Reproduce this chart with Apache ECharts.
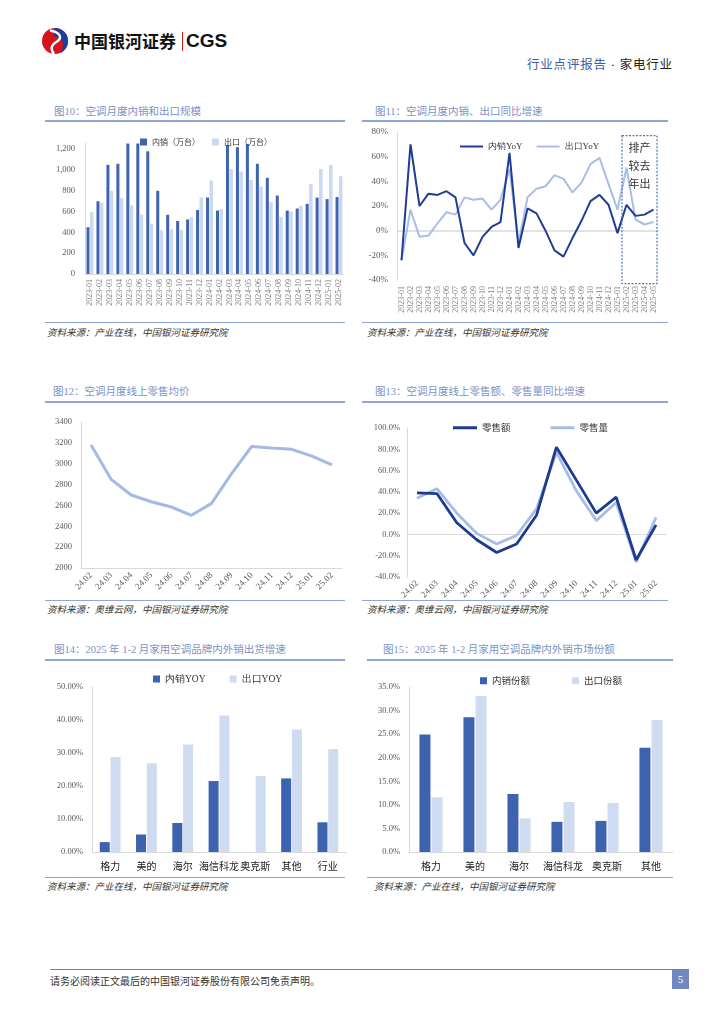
<!DOCTYPE html>
<html><head><meta charset="utf-8">
<script src="https://cdn.jsdelivr.net/npm/echarts@6/dist/echarts.min.js"></script>
<style>
html,body{margin:0;padding:0;background:#fff;}
body{width:724px;height:1024px;position:relative;overflow:hidden;font-family:"Liberation Serif","Noto Sans CJK SC",serif;}
.abs{position:absolute;}
.ttl{position:absolute;font-size:10.5px;color:#7b92c4;white-space:nowrap;line-height:14px;}
.hl{position:absolute;height:2px;background:#8ea5d5;}
.sl{position:absolute;height:1px;background:#8ea5d5;}
.src{position:absolute;font-size:9.5px;color:#333;white-space:nowrap;line-height:12px;font-style:italic;}
.ch{position:absolute;}
</style></head>
<body>
<!-- header -->
<svg class="abs" style="left:41px;top:27px" width="28" height="28" viewBox="0 0 28 28">
<circle cx="14" cy="14" r="13" fill="#d7141e"/>
<path d="M14 1 A13 13 0 0 1 27 14 A13 13 0 0 1 19 26 C24 20 23 12 15 10 C12 9 11 6 14 1 Z" fill="#1b3f98"/>
<path d="M9 3.5 C19 5 22 11 16 14.5 C10 18 9 22 13 27" stroke="#fff" stroke-width="2.4" fill="none"/>
</svg>
<div class="abs" style="left:74px;top:29px;font-family:'Noto Sans CJK SC';font-weight:bold;font-size:17px;line-height:24px;color:#111;letter-spacing:0px">中国银河证券</div>
<div class="abs" style="left:182px;top:32px;width:1px;height:19px;background:#d7141e"></div>
<div class="abs" style="left:186px;top:28px;font-family:'Liberation Sans';font-weight:bold;font-size:19px;line-height:26px;color:#111">CGS</div>
<div class="abs" style="left:527px;top:56px;font-size:12.5px;line-height:18px;white-space:nowrap;letter-spacing:0.8px"><span style="color:#3b5ca8">行业点评报告</span><span style="color:#222"> · 家电行业</span></div>

<!-- titles -->
<div class="ttl" style="left:54px;top:105px">图10：空调月度内销和出口规模</div>
<div class="hl" style="left:45px;top:120px;width:300px"></div>
<div class="ttl" style="left:375px;top:105px">图11：空调月度内销、出口同比增速</div>
<div class="hl" style="left:362px;top:120px;width:306px"></div>
<div class="sl" style="left:45px;top:322px;width:300px"></div>
<div class="sl" style="left:362px;top:322px;width:306px"></div>
<div class="src" style="left:47px;top:327px">资料来源：产业在线，中国银河证券研究院</div>
<div class="src" style="left:367px;top:327px">资料来源：产业在线，中国银河证券研究院</div>

<div class="ttl" style="left:53px;top:385px">图12：空调月度线上零售均价</div>
<div class="hl" style="left:45px;top:401px;width:300px"></div>
<div class="ttl" style="left:375px;top:385px">图13：空调月度线上零售额、零售量同比增速</div>
<div class="hl" style="left:362px;top:401px;width:306px"></div>
<div class="sl" style="left:45px;top:600px;width:300px"></div>
<div class="sl" style="left:362px;top:600px;width:306px"></div>
<div class="src" style="left:47px;top:604px">资料来源：奥维云网，中国银河证券研究院</div>
<div class="src" style="left:367px;top:604px">资料来源：奥维云网，中国银河证券研究院</div>

<div class="ttl" style="left:54px;top:643px">图14：2025 年 1-2 月家用空调品牌内外销出货增速</div>
<div class="hl" style="left:45px;top:659px;width:300px"></div>
<div class="ttl" style="left:383px;top:643px">图15：2025 年 1-2 月家用空调品牌内外销市场份额</div>
<div class="hl" style="left:367px;top:659px;width:306px"></div>
<div class="sl" style="left:45px;top:877px;width:300px"></div>
<div class="sl" style="left:367px;top:877px;width:306px"></div>
<div class="src" style="left:47px;top:881px">资料来源：产业在线，中国银河证券研究院</div>
<div class="src" style="left:374px;top:881px">资料来源：产业在线，中国银河证券研究院</div>

<!-- footer -->
<div class="abs" style="left:50px;top:969px;width:639px;height:1px;background:#7f7f7f"></div>
<div class="abs" style="left:50px;top:974px;font-size:10px;line-height:14px;color:#333;font-family:'Noto Sans CJK SC'">请务必阅读正文最后的中国银河证券股份有限公司免责声明。</div>
<div class="abs" style="left:672px;top:970px;width:17px;height:19px;background:#6f88c0;color:#fff;font-size:11px;line-height:19px;text-align:center">5</div>

<div id="c10" class="ch" style="left:40px;top:125px;width:310px;height:200px"></div>
<div id="c11" class="ch" style="left:360px;top:125px;width:310px;height:200px"></div>
<div id="c12" class="ch" style="left:40px;top:405px;width:310px;height:195px"></div>
<div id="c13" class="ch" style="left:360px;top:405px;width:310px;height:195px"></div>
<div id="c14" class="ch" style="left:40px;top:660px;width:310px;height:216px"></div>
<div id="c15" class="ch" style="left:360px;top:660px;width:320px;height:216px"></div>

<script>
// ---------- data ----------
const months10 = ['2023-01','2023-02','2023-03','2023-04','2023-05','2023-06','2023-07','2023-08','2023-09','2023-10','2023-11','2023-12','2024-01','2024-02','2024-03','2024-04','2024-05','2024-06','2024-07','2024-08','2024-09','2024-10','2024-11','2024-12','2025-01','2025-02'];
const domestic10 = [450,700,1050,1060,1255,1255,1180,800,570,510,525,615,735,610,1240,1220,1250,1060,925,755,610,630,675,735,720,740];
const export10 = [595,685,800,730,660,570,485,420,430,425,545,735,900,625,1010,985,905,840,690,550,600,655,865,1010,1050,940];

const months11 = ['2023-01','2023-02','2023-03','2023-04','2023-05','2023-06','2023-07','2023-08','2023-09','2023-10','2023-11','2023-12','2024-01','2024-02','2024-03','2024-04','2024-05','2024-06','2024-07','2024-08','2024-09','2024-10','2024-11','2024-12','2025-01','2025-02','2025-03','2025-04','2025-05'];
const domesticYoY11 = [-24,70,20,30,29,32,27,-10,-20,-5,3,7,63,-14,18,14,0,-16,-21,-6,8,24,29,21,-2,21,12,13,17];
const exportYoY11 = [-24,17,-5,-4,6,15,13,27,25,26,17,25,50,-10,27,34,36,45,42,31,39,54,59,38,17,51,9,5,7];
const boxText11 = '排产\n较去\n年出';

const months12 = ['24.02','24.03','24.04','24.05','24.06','24.07','24.08','24.09','24.10','24.11','24.12','25.01','25.02'];
const price12 = [3180,2850,2700,2635,2585,2505,2620,2905,3165,3150,3138,3072,2988];

const months13 = ['24.02','24.03','24.04','24.05','24.06','24.07','24.08','24.09','24.10','24.11','24.12','25.01','25.02'];
const salesAmt13 = [39,38.4,11,-5,-17,-9,18,82,51,20,35,-24,9];
const salesVol13 = [34,43,20,1,-9,-1,24,77,41,13,30,-26,16];

const brands14 = ['格力','美的','海尔','海信科龙','奥克斯','其他','行业'];
const domesticYoY14 = [3.0,5.3,8.8,21.5,null,22.3,9.0];
const exportYoY14 = [28.8,26.9,32.6,41.4,23.0,37.1,31.2];

const brands15 = ['格力','美的','海尔','海信科龙','奥克斯','其他'];
const domesticShare15 = [24.9,28.6,12.3,6.4,6.6,22.1];
const exportShare15 = [11.6,33.1,7.1,10.6,10.4,28.0];

// ---------- styles ----------
const SERIF = 'Liberation Serif';
const CJK = 'Noto Sans CJK SC';
const axisGrey = '#d9d9d9';
const labGrey = '#595959';
const DARK = '#3d62ae', LIGHT = '#cfdbf0';
const LDARK = '#1f3e93', LLIGHT = '#a8bde8';

function yAxisBase(extra){
  return Object.assign({
    type:'value',
    axisLine:{show:true,lineStyle:{color:axisGrey,width:1}},
    axisTick:{show:false},
    splitLine:{show:false},
    axisLabel:{color:labGrey,fontFamily:SERIF,fontSize:9,margin:8}
  }, extra);
}

// ---------- chart 10 ----------
(function(){
  const c = echarts.init(document.getElementById('c10'));
  c.setOption({
    animation:false,
    grid:{left:45,right:6,top:18,bottom:51,containLabel:false,outerBoundsMode:'none'},
    legend:{top:8,left:95,itemWidth:7,itemHeight:7,itemGap:12,icon:'rect',
      textStyle:{fontSize:8,color:'#333',fontFamily:CJK},data:['内销（万台）','出口（万台）']},
    xAxis:{type:'category',data:months10,
      axisLine:{lineStyle:{color:axisGrey}},axisTick:{show:false},
      axisLabel:{rotate:90,interval:0,fontSize:8,color:'#7f7f7f',fontFamily:SERIF,margin:5}},
    yAxis:yAxisBase({min:0,max:1260,interval:200,
      axisLabel:{color:labGrey,fontFamily:SERIF,fontSize:8.5,margin:10,
        formatter:v=> (v%200===0 ? v.toLocaleString('en-US') : '')}}),
    series:[
      {name:'内销（万台）',type:'bar',data:domestic10,barWidth:3,barGap:'15%',itemStyle:{color:'#3e63b0'}},
      {name:'出口（万台）',type:'bar',data:export10,barWidth:3.5,itemStyle:{color:'#cad8f0'}}
    ]
  });
})();

// ---------- chart 11 ----------
(function(){
  const c = echarts.init(document.getElementById('c11'));
  c.setOption({
    animation:false,
    grid:{left:37,right:12,top:7,bottom:45,containLabel:false,outerBoundsMode:'none'},
    legend:{top:12,left:95,itemWidth:23,itemHeight:2,itemGap:14,icon:'rect',
      textStyle:{fontSize:9,color:'#333',fontFamily:SERIF},data:['内销YoY','出口YoY']},
    xAxis:[
      {type:'category',data:months11,position:'bottom',
        axisLine:{show:false,onZero:false},axisTick:{show:false},
        axisLabel:{rotate:90,interval:0,fontSize:8,color:'#7f7f7f',fontFamily:SERIF,margin:6}},
      {type:'category',data:months11,position:'bottom',
        axisLine:{show:true,onZero:true,lineStyle:{color:axisGrey,width:1.5}},axisTick:{show:false},axisLabel:{show:false}}
    ],
    yAxis:yAxisBase({min:-40,max:80,interval:20,
      axisLabel:{color:labGrey,fontFamily:SERIF,fontSize:9,margin:9,formatter:'{value}%'}}),
    series:[
      {name:'内销YoY',type:'line',data:domesticYoY11,symbol:'none',lineStyle:{width:2,color:LDARK},itemStyle:{color:LDARK},z:3},
      {name:'出口YoY',type:'line',data:exportYoY11,symbol:'none',lineStyle:{width:2,color:LLIGHT},itemStyle:{color:LLIGHT},z:2}
    ]
  });
  const px = i => c.convertToPixel({xAxisIndex:0}, i);
  const x0 = (px(24)+px(25))/2;
  const n = months11.length-1;
  const x1 = px(n) + (px(n)-px(n-1))/2 - 1;
  const y0 = c.convertToPixel({yAxisIndex:0}, 77);
  const y1 = c.convertToPixel({yAxisIndex:0}, -43);
  c.setOption({graphic:[
    {type:'rect',shape:{x:x0,y:y0,width:x1-x0,height:y1-y0},
      style:{fill:'none',stroke:'#4f73b8',lineWidth:1.2,lineDash:[2,1.5]},z:10},
    {type:'text',x:(x0+x1)/2,y:y0+3,style:{text:boxText11,fill:'#333',font:'11px "Noto Sans CJK SC"',
      align:'center',verticalAlign:'top',lineHeight:18},z:11}
  ]});
})();

// ---------- chart 12 ----------
(function(){
  const c = echarts.init(document.getElementById('c12'));
  c.setOption({
    animation:false,
    grid:{left:41,right:8,top:17,bottom:32,containLabel:false,outerBoundsMode:'none'},
    xAxis:{type:'category',data:months12,
      axisLine:{lineStyle:{color:axisGrey}},axisTick:{show:false},
      axisLabel:{rotate:45,interval:0,fontSize:9,color:labGrey,fontFamily:SERIF,margin:6}},
    yAxis:yAxisBase({min:2000,max:3400,interval:200,
      axisLabel:{color:labGrey,fontFamily:SERIF,fontSize:8.5,margin:9,formatter:v=>String(v)}}),
    series:[{type:'line',data:price12,symbol:'none',lineStyle:{width:3,color:'#a5b9e5'}}]
  });
})();

// ---------- chart 13 ----------
(function(){
  const c = echarts.init(document.getElementById('c13'));
  c.setOption({
    animation:false,
    grid:{left:47,right:4,top:23,bottom:23,containLabel:false,outerBoundsMode:'none'},
    legend:{top:13,left:88,itemWidth:24,itemHeight:3,itemGap:40,icon:'rect',
      textStyle:{fontSize:9.5,color:'#333',fontFamily:CJK},data:['零售额','零售量']},
    xAxis:{type:'category',data:months13,
      axisLine:{onZero:true,lineStyle:{color:axisGrey,width:1.2}},axisTick:{show:false},
      axisLabel:{rotate:45,interval:0,fontSize:9,color:labGrey,fontFamily:SERIF,margin:5}},
    yAxis:yAxisBase({min:-40,max:100,interval:20,
      axisLabel:{color:labGrey,fontFamily:SERIF,fontSize:8.5,margin:7,formatter:v=>v.toFixed(1)+'%'}}),
    series:[
      {name:'零售额',type:'line',data:salesAmt13,symbol:'none',lineStyle:{width:2.8,color:'#1c3b8e'},itemStyle:{color:'#1c3b8e'},z:3},
      {name:'零售量',type:'line',data:salesVol13,symbol:'none',lineStyle:{width:2.8,color:'#a7bce6'},itemStyle:{color:'#a7bce6'},z:2}
    ]
  });
})();

// ---------- chart 14 ----------
(function(){
  const c = echarts.init(document.getElementById('c14'));
  c.setOption({
    animation:false,
    grid:{left:52,right:4,top:27,bottom:24,containLabel:false,outerBoundsMode:'none'},
    legend:{top:9,left:108,itemWidth:7,itemHeight:7,itemGap:24,icon:'rect',
      textStyle:{fontSize:9.5,color:'#333',fontFamily:SERIF},data:['内销YOY','出口YOY']},
    xAxis:{type:'category',data:brands14,
      axisLine:{lineStyle:{color:axisGrey,width:1.2}},axisTick:{show:false},
      axisLabel:{interval:0,fontSize:10,color:'#222',fontFamily:CJK,margin:9}},
    yAxis:yAxisBase({min:0,max:50,interval:10,
      axisLabel:{color:labGrey,fontFamily:SERIF,fontSize:8.5,margin:9,formatter:v=>v.toFixed(2)+'%'}}),
    series:[
      {name:'内销YOY',type:'bar',data:domesticYoY14,barWidth:10,barGap:'8%',itemStyle:{color:DARK}},
      {name:'出口YOY',type:'bar',data:exportYoY14,barWidth:10,itemStyle:{color:LIGHT}}
    ]
  });
})();

// ---------- chart 15 ----------
(function(){
  const c = echarts.init(document.getElementById('c15'));
  c.setOption({
    animation:false,
    grid:{left:49,right:7,top:27,bottom:24,containLabel:false,outerBoundsMode:'none'},
    legend:{top:11,left:115,itemWidth:7,itemHeight:7,itemGap:42,icon:'rect',
      textStyle:{fontSize:9.5,color:'#333',fontFamily:CJK},data:['内销份额','出口份额']},
    xAxis:{type:'category',data:brands15,
      axisLine:{lineStyle:{color:axisGrey,width:1.2}},axisTick:{show:false},
      axisLabel:{interval:0,fontSize:10,color:'#222',fontFamily:CJK,margin:9}},
    yAxis:yAxisBase({min:0,max:35,interval:5,
      axisLabel:{color:labGrey,fontFamily:SERIF,fontSize:8.5,margin:9,formatter:v=>v.toFixed(1)+'%'}}),
    series:[
      {name:'内销份额',type:'bar',data:domesticShare15,barWidth:11,barGap:'10%',itemStyle:{color:DARK}},
      {name:'出口份额',type:'bar',data:exportShare15,barWidth:11,itemStyle:{color:LIGHT}}
    ]
  });
})();
</script>
</body></html>
